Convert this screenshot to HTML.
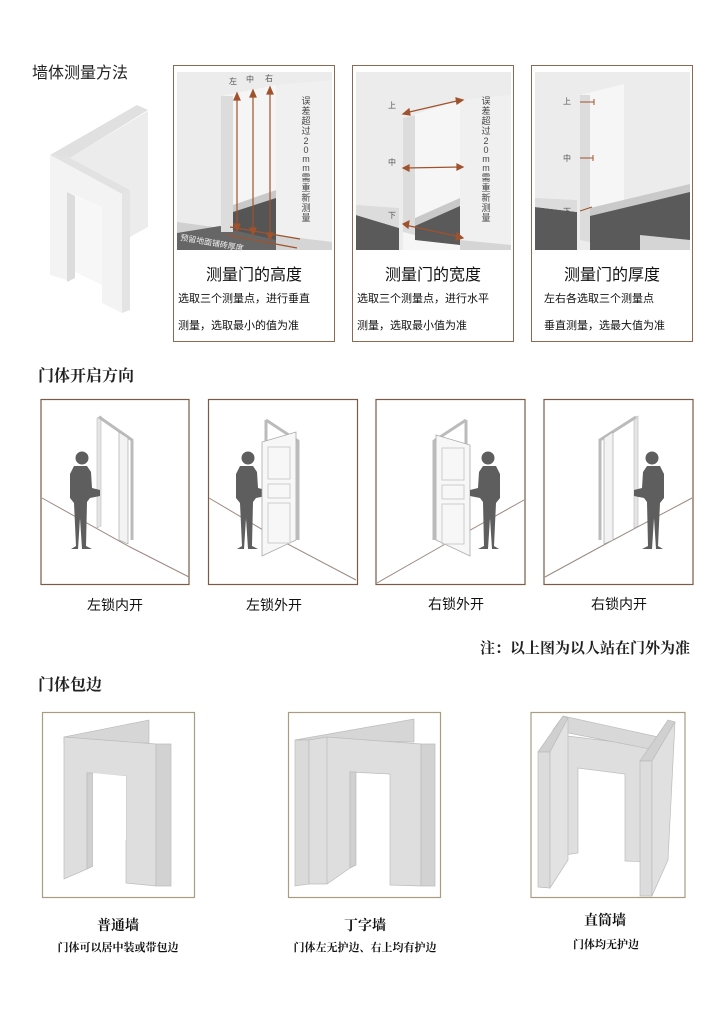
<!DOCTYPE html>
<html><head><meta charset="utf-8"><style>
body{margin:0;background:#fff;}
svg{display:block;}
text{font-family:"Liberation Sans","Noto Sans CJK SC",sans-serif;}
.s{font-family:"Liberation Serif","Noto Serif CJK SC",serif;font-weight:bold;}
</style></head><body>
<svg width="726" height="1010" viewBox="0 0 726 1010" xmlns="http://www.w3.org/2000/svg">
<rect width="726" height="1010" fill="#fff"/>
<!-- Section 1 -->
<text x="32" y="78" font-size="16" fill="#222">墙体测量方法</text>
<!-- iso shape -->
<polygon points="70,158 148,111 148,227 130,237 130,190" fill="#ececec"/>
<polygon points="50,155 137,105 148,110 70,158" fill="#e0e0e0"/>
<polygon points="50,155 70,158 130,190 122,194" fill="#e2e2e2"/>
<polygon points="50,155 122,194 122,313 102,303 102,207 67,192 67,280 50,275" fill="#f3f3f3"/>
<polygon points="67,192 75,196 75,278 67,282" fill="#dcdcdc"/>
<polygon points="75,196 102,207 102,285 75,272" fill="#f7f7f7"/>
<polygon points="122,194 130,190 130,310 122,313" fill="#e4e4e4"/>

<!-- panel frames -->
<rect x="173.5" y="65.5" width="161" height="276" fill="#fff" stroke="#8a6a55"/>
<rect x="352.5" y="65.5" width="161" height="276" fill="#fff" stroke="#8a6a55"/>
<rect x="531.5" y="65.5" width="161" height="276" fill="#fff" stroke="#8a6a55"/>

<!-- panel 1 -->
<rect x="177" y="72" width="155" height="178" fill="#ececec"/>
<polygon points="177,222 221,228 221,240 177,238" fill="#d0d0d0"/>
<polygon points="177,233 220,226 300,240 300,250 177,250" fill="#666"/>
<polygon points="221,96 276,85 276,210 233,225" fill="#f5f5f5"/>
<polygon points="221,96 233,96 233,232 221,232" fill="#dcdcdc"/>
<polygon points="233,210 276,195 276,240 233,230" fill="#555"/>
<polygon points="233,205 276,190 276,198 233,212" fill="#c9c9c9"/>
<polygon points="276,85 332,80 332,250 276,250" fill="#f0f0f0"/>
<polygon points="276,235 332,242 332,250 276,250" fill="#d5d5d5"/>
<g stroke="#a0522d" stroke-width="1.2" fill="#a0522d">
<line x1="237" y1="96" x2="237" y2="228"/><polygon points="234,100 237,93 240,100"/><polygon points="234,224 237,231 240,224"/>
<line x1="253" y1="93" x2="253" y2="232"/><polygon points="250,97 253,90 256,97"/><polygon points="250,228 253,235 256,228"/>
<line x1="270" y1="90" x2="270" y2="237"/><polygon points="267,94 270,87 273,94"/><polygon points="267,233 270,240 273,233"/>
<line x1="230" y1="227" x2="300" y2="239"/><line x1="227" y1="235" x2="297" y2="248"/>
</g>
<text x="229" y="84" font-size="8" fill="#555">左</text>
<text x="246" y="82" font-size="8" fill="#555">中</text>
<text x="265" y="81" font-size="8" fill="#555">右</text>
<g font-size="9" fill="#444" text-anchor="middle">
<text x="306" y="104">误</text><text x="306" y="114">差</text><text x="306" y="124">超</text><text x="306" y="134">过</text><text x="306" y="144">2</text><text x="306" y="153">0</text><text x="306" y="162">m</text><text x="306" y="171">m</text><text x="306" y="181">需</text><text x="306" y="191">重</text><text x="306" y="201">新</text><text x="306" y="211">测</text><text x="306" y="221">量</text>
</g>
<text x="180" y="240" font-size="8" fill="#eee" transform="rotate(10 180 240)">预留地面铺砖厚度</text>
<text x="254" y="280" font-size="16" text-anchor="middle" fill="#111">测量门的高度</text>
<text x="178" y="302" font-size="11" fill="#111">选取三个测量点，进行垂直</text>
<text x="178" y="329" font-size="11" fill="#111">测量，选取最小的值为准</text>

<!-- panel 2 -->
<rect x="356" y="72" width="155" height="178" fill="#ececec"/>
<polygon points="356,215 399,228 399,250 356,250" fill="#5a5a5a"/>
<polygon points="356,205 399,208 399,228 356,215" fill="#dcdcdc"/>
<polygon points="403,118 460,100 460,250 403,250" fill="#f6f6f6"/>
<polygon points="403,118 415,115 415,235 403,232" fill="#dcdcdc"/>
<polygon points="415,225 460,205 460,245 415,240" fill="#5a5a5a"/>
<polygon points="415,218 460,198 460,206 415,226" fill="#c9c9c9"/>
<polygon points="460,100 511,95 511,250 460,250" fill="#f0f0f0"/>
<polygon points="460,240 511,245 511,250 460,250" fill="#d5d5d5"/>
<g stroke="#a0522d" stroke-width="1.2" fill="#a0522d">
<line x1="405" y1="113" x2="461" y2="100"/><polygon points="409,109 403,114 410,115"/><polygon points="456,98 463,100 457,104"/>
<line x1="405" y1="168" x2="461" y2="167"/><polygon points="409,165 403,168 409,171"/><polygon points="457,164 463,167 457,170"/>
<line x1="405" y1="225" x2="461" y2="237"/><polygon points="409,221 403,224 408,228"/><polygon points="457,233 463,238 456,240"/>
</g>
<text x="388" y="108" font-size="8" fill="#555">上</text>
<text x="388" y="165" font-size="8" fill="#555">中</text>
<text x="388" y="218" font-size="8" fill="#555">下</text>
<g font-size="9" fill="#444" text-anchor="middle">
<text x="486" y="104">误</text><text x="486" y="114">差</text><text x="486" y="124">超</text><text x="486" y="134">过</text><text x="486" y="144">2</text><text x="486" y="153">0</text><text x="486" y="162">m</text><text x="486" y="171">m</text><text x="486" y="181">需</text><text x="486" y="191">重</text><text x="486" y="201">新</text><text x="486" y="211">测</text><text x="486" y="221">量</text>
</g>
<text x="433" y="280" font-size="16" text-anchor="middle" fill="#111">测量门的宽度</text>
<text x="357" y="302" font-size="11" fill="#111">选取三个测量点，进行水平</text>
<text x="357" y="329" font-size="11" fill="#111">测量，选取最小值为准</text>

<!-- panel 3 -->
<rect x="535" y="72" width="155" height="178" fill="#ececec"/>
<polygon points="535,207 577,212 577,250 535,250" fill="#5a5a5a"/>
<polygon points="535,198 577,200 577,212 535,207" fill="#dcdcdc"/>
<polygon points="580,95 624,84 624,230 580,238" fill="#f6f6f6"/>
<polygon points="580,95 590,95 590,242 580,240" fill="#dcdcdc"/>
<polygon points="590,215 690,190 690,250 590,250" fill="#5a5a5a"/>
<polygon points="590,208 690,184 690,192 590,216" fill="#cacaca"/>
<polygon points="640,235 690,240 690,250 640,250" fill="#d5d5d5"/>
<g stroke="#a0522d" stroke-width="1"><line x1="580" y1="102" x2="594" y2="102"/><line x1="594" y1="99" x2="594" y2="105"/>
<line x1="580" y1="158" x2="593" y2="158"/><line x1="593" y1="155" x2="593" y2="161"/>
<line x1="580" y1="211" x2="592" y2="207"/></g>
<text x="563" y="104" font-size="8" fill="#555">上</text>
<text x="563" y="161" font-size="8" fill="#555">中</text>
<text x="563" y="214" font-size="8" fill="#555">下</text>
<text x="612" y="280" font-size="16" text-anchor="middle" fill="#111">测量门的厚度</text>
<text x="544" y="302" font-size="11" fill="#111">左右各选取三个测量点</text>
<text x="544" y="329" font-size="11" fill="#111">垂直测量，选最大值为准</text>

<!-- Section 2 -->
<text class="s" x="38" y="381" font-size="16" fill="#222">门体开启方向</text>
<defs>
<g id="p"><circle cx="0" cy="0" r="6.5" fill="#5e5e5e"/>
<path d="M-8,8 L5,8 L9,14 L10,30 L18,32 L18,38 L8,40 L5,44 L4,88 L10,91 L0,91 L-2,60 L-4,91 L-11,91 L-6,88 L-8,45 L-12,40 L-12,16 Z" fill="#5e5e5e"/></g>
</defs>
<g fill="none" stroke="#7a5a48" stroke-width="1.2">
<rect x="41" y="399.5" width="148" height="185"/>
<rect x="208.5" y="399.5" width="149" height="185"/>
<rect x="376" y="399.5" width="149" height="185"/>
<rect x="544" y="399.5" width="149" height="185"/>
</g>
<g stroke="#9a8a80" stroke-width="1" fill="none">
<polyline points="42,498 130,547 189,577"/>
<polyline points="209,498 280,540 356,580"/>
<polyline points="377,583 440,547 524,500"/>
<polyline points="545,577 600,547 692,498"/>
</g>
<g>
<polygon points="97,418 101,416 101,526 97,528" fill="#e5e5e5" stroke="#bbb" stroke-width=".6"/>
<polyline points="99,417 132,440 132,540" fill="none" stroke="#bbb" stroke-width="3"/>
<polygon points="119,432 128,438 128,544 119,540" fill="#f3f3f3" stroke="#aaa" stroke-width=".7"/>
<use href="#p" x="82" y="458"/>
</g>
<g>
<polyline points="266,420 266,500" fill="none" stroke="#bbb" stroke-width="3"/>
<polyline points="266,420 298,441 298,540" fill="none" stroke="#bbb" stroke-width="3"/>
<use href="#p" x="248" y="458"/>
<polygon points="262,442 296,432 296,540 262,556" fill="#f7f7f7" stroke="#aaa" stroke-width=".8"/>
<rect x="268" y="447" width="22" height="32" fill="none" stroke="#ccc"/>
<rect x="268" y="484" width="22" height="14" fill="none" stroke="#ccc"/>
<rect x="268" y="503" width="22" height="40" fill="none" stroke="#ccc"/>
</g>
<g>
<polyline points="466,420 466,500" fill="none" stroke="#bbb" stroke-width="3"/>
<polyline points="466,420 434,441 434,540" fill="none" stroke="#bbb" stroke-width="3"/>
<polygon points="436,435 470,445 470,556 436,540" fill="#f7f7f7" stroke="#aaa" stroke-width=".8"/>
<rect x="442" y="448" width="22" height="32" fill="none" stroke="#ccc"/>
<rect x="442" y="485" width="22" height="14" fill="none" stroke="#ccc"/>
<rect x="442" y="504" width="22" height="40" fill="none" stroke="#ccc"/>
<use href="#p" x="-488" y="458" transform="scale(-1,1)"/>
</g>
<g>
<polygon points="634,418 638,416 638,526 634,528" fill="#e5e5e5" stroke="#bbb" stroke-width=".6"/>
<polyline points="636,417 600,440 600,540" fill="none" stroke="#bbb" stroke-width="3"/>
<polygon points="604,438 613,432 613,540 604,544" fill="#f3f3f3" stroke="#aaa" stroke-width=".7"/>
<use href="#p" x="-652" y="458" transform="scale(-1,1)"/>
</g>
<text x="115" y="610" font-size="14" text-anchor="middle" fill="#111">左锁内开</text>
<text x="274" y="610" font-size="14" text-anchor="middle" fill="#111">左锁外开</text>
<text x="456" y="609" font-size="14" text-anchor="middle" fill="#111">右锁外开</text>
<text x="619" y="609" font-size="14" text-anchor="middle" fill="#111">右锁内开</text>
<text class="s" x="690" y="653" font-size="15" text-anchor="end" fill="#222">注：以上图为以人站在门外为准</text>

<!-- Section 3 -->
<text class="s" x="38" y="690" font-size="16" fill="#222">门体包边</text>
<g fill="none" stroke="#a89c82" stroke-width="1.2">
<rect x="42.5" y="712.5" width="152" height="185"/>
<rect x="288.5" y="712.5" width="152" height="185"/>
<rect x="531" y="712.5" width="154" height="185"/>
</g>
<g stroke="#bcbcbc" stroke-width=".7">
<polygon points="64,737 149,720 149,743 64,743" fill="#d6d6d6"/>
<polygon points="64,737 156,744 156,886 126,883 126,776 87,773 87,869 64,879" fill="#dedede"/>
<polygon points="156,744 171,744 171,886 156,886" fill="#d2d2d2"/>
<polygon points="87,773 93,773 93,866 87,869" fill="#d0d0d0"/>
<polygon points="93,773 126,776 126,840 93,866" fill="#fff" stroke="none"/>
<polygon points="295,740 414,719 414,742 309,740" fill="#d6d6d6"/>
<polygon points="295,740 309,740 309,884 295,886" fill="#dadada"/>
<polygon points="309,740 327,737 421,744 421,886 390,885 390,774 350,772 350,868 327,884 309,884" fill="#dedede"/>
<line x1="327" y1="737" x2="327" y2="884"/>
<polygon points="421,744 435,744 435,886 421,886" fill="#d2d2d2"/>
<polygon points="350,772 356,772 356,865 350,868" fill="#d0d0d0"/>
<polygon points="559,735 649,746 649,862 625,861 625,774 578,768 578,853 559,856" fill="#dedede"/>
<polygon points="553,730 563,716 663,738 655,750" fill="#d8d8d8"/>
<polygon points="538,752 563,716 568,718 550,752" fill="#d0d0d0"/>
<polygon points="538,752 550,752 550,888 538,887" fill="#dcdcdc"/>
<polygon points="550,752 568,718 568,860 550,888" fill="#e2e2e2"/>
<polygon points="652,761 675,722 668,720 640,761" fill="#d0d0d0"/>
<polygon points="640,761 652,761 652,896 640,896" fill="#dcdcdc"/>
<polygon points="652,761 675,722 668,860 652,896" fill="#e0e0e0"/>
</g>
<text class="s" x="118" y="930" font-size="14" text-anchor="middle" fill="#111">普通墙</text>
<text class="s" x="118" y="951" font-size="11" text-anchor="middle" fill="#111">门体可以居中装或带包边</text>
<text class="s" x="365" y="930" font-size="14" text-anchor="middle" fill="#111">丁字墙</text>
<text class="s" x="365" y="951" font-size="11" text-anchor="middle" fill="#111">门体左无护边、右上均有护边</text>
<text class="s" x="605" y="925" font-size="14" text-anchor="middle" fill="#111">直筒墙</text>
<text class="s" x="606" y="948" font-size="11" text-anchor="middle" fill="#111">门体均无护边</text>
</svg>
</body></html>
